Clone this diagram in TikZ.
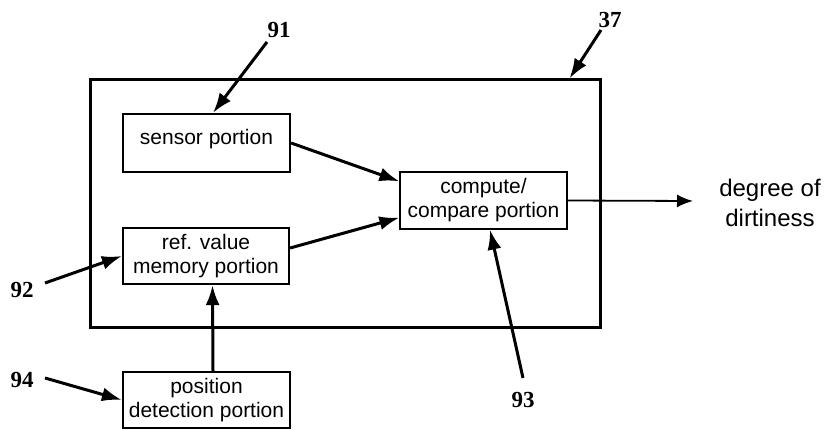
\documentclass[tikz,border=0pt]{standalone}
\usepackage{fontspec}
\setmainfont{Liberation Sans}
\newfontfamily\numfont{Liberation Serif}
\usetikzlibrary{arrows.meta}
\begin{document}
\begin{tikzpicture}[x=1pt,y=-1pt,
  blockbox/.style={draw,line width=2.2pt,inner sep=0pt,align=center,font=\fontsize{21}{24}\selectfont},
  refnum/.style={font=\numfont\bfseries\fontsize{23}{25}\selectfont,inner sep=0pt},
  bigarrow/.style={line width=3pt,-{Latex[length=20pt,width=14pt]}},
  thinarrow/.style={line width=1.8pt,-{Latex[length=16pt,width=13pt]}}]
\useasboundingbox (0,0) rectangle (826,430);
\node[draw,line width=3pt,minimum width=510pt,minimum height=247pt] (outer) at (345,203.5) {};
\node[blockbox,minimum width=167pt,minimum height=58pt] (sensor) at (206.5,143) {sensor portion\\[-12pt]};
\node[blockbox,minimum width=166pt,minimum height=56pt] (ref) at (206,256) {ref. value\\memory portion};
\node[blockbox,line width=1.3pt,minimum width=167pt,minimum height=57pt] (compute) at (483.5,200.5) {compute/\\compare portion};
\node[blockbox,minimum width=167pt,minimum height=56pt] (pos) at (206.5,400) {position\\detection portion};
\node[align=center,font=\fontsize{24}{30}\selectfont] (out) at (770,203) {degree of\\dirtiness};
\node[refnum] (n91) at (279,30) {91};
\node[refnum] (n37) at (610,20) {37};
\node[refnum] (n92) at (22,290) {92};
\node[refnum] (n94) at (22,380) {94};
\node[refnum] (n93) at (523,400) {93};
\coordinate (a91) at (267,42);
\coordinate (a37) at (601,30);
\coordinate (a92) at (45,283);
\coordinate (a94) at (45,378);
\coordinate (a93) at (523,378);
\coordinate (outend) at (693,201);
\draw[bigarrow] (sensor.east) -- ([yshift=-10pt]compute.north west);
\draw[bigarrow] ([yshift=8pt]ref.east) -- ([yshift=12pt]compute.south west);
\draw[bigarrow] ([xshift=6.5pt]pos.north) -- ([xshift=6.5pt]ref.south);
\draw[thinarrow] (compute.east) -- (outend);
\draw[bigarrow] (a91) -- ([xshift=6.5pt]sensor.north);
\draw[bigarrow] (a37) -- ([xshift=-32pt]outer.north east);
\draw[bigarrow] (a92) -- (ref.west);
\draw[bigarrow] (a94) -- (pos.west);
\draw[bigarrow] (a93) -- ([xshift=6.5pt]compute.south);
\end{tikzpicture}
\end{document}
